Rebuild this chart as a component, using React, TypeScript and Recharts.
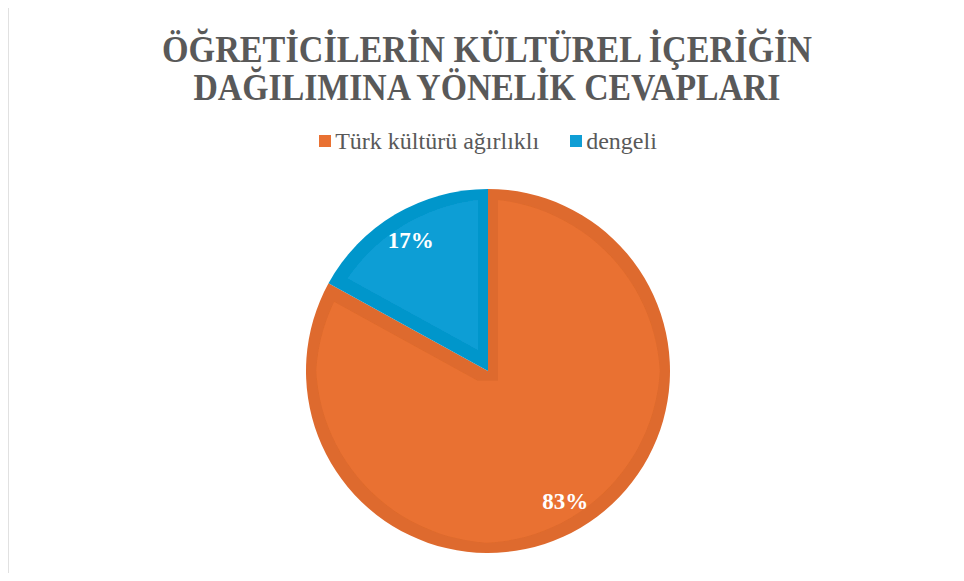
import { PieChart, Pie, Cell, Legend } from 'recharts';

const categories = ['Türk kültürü ağırlıklı', 'dengeli'];
const shares = [83, 17];
const colors = ['#E97132', '#0F9ED5'];
const titleLines = ['ÖĞRETİCİLERİN KÜLTÜREL İÇERİĞİN', 'DAĞILIMINA YÖNELİK CEVAPLARI'];

const data = categories.map((name, i) => ({ name, value: shares[i] }));

const SERIF = '"Liberation Serif", "Times New Roman", serif';
const RAD = Math.PI / 180;

// percent label, placed inside the slice near the rim
const renderLabel = ({ cx, cy, midAngle, outerRadius, percent }: any) => {
  const r = outerRadius * 0.835;
  const x = cx + r * Math.cos(-midAngle * RAD);
  const y = cy + r * Math.sin(-midAngle * RAD);
  return (
    <text
      x={x}
      y={y}
      fill="#ffffff"
      textAnchor="middle"
      dominantBaseline="central"
      style={{ fontFamily: SERIF, fontSize: 23, fontWeight: 700 }}
    >
      {`${Math.round(percent * 100)}%`}
    </text>
  );
};

const renderLegend = ({ payload }: any) => (
  <div style={{ display: 'flex', justifyContent: 'center', gap: 31, paddingLeft: 12, fontFamily: SERIF, fontSize: 24, color: '#595959', lineHeight: '28px' }}>
    {payload.map((item: any) => (
      <span key={item.value} style={{ display: 'inline-flex', alignItems: 'center' }}>
        <span style={{ width: 12, height: 12, background: item.color, marginRight: 4, display: 'inline-block' }} />
        {item.value}
      </span>
    ))}
  </div>
);

export default function App() {
  return (
    <div style={{ position: 'relative', width: 964, height: 581, margin: -8, overflow: 'hidden', background: '#fff' }}>
      <div style={{ position: 'absolute', left: 0, top: 0 }}>
        <PieChart width={964} height={581}>
          <defs>
            <filter id="innerEdge" x="-10%" y="-10%" width="120%" height="120%">
              <feMorphology in="SourceAlpha" operator="erode" radius="10" result="core" />
              <feComponentTransfer in="SourceGraphic" result="dark">
                <feFuncR type="linear" slope="0.9" />
                <feFuncG type="linear" slope="0.9" />
                <feFuncB type="linear" slope="0.9" />
              </feComponentTransfer>
              <feComposite in="SourceGraphic" in2="core" operator="in" result="inner" />
              <feMerge>
                <feMergeNode in="dark" />
                <feMergeNode in="inner" />
              </feMerge>
            </filter>
          </defs>
          <Legend
            verticalAlign="middle"
            layout="horizontal"
            content={renderLegend}
            wrapperStyle={{ top: 127, left: 0, width: 964 }}
          />
          <Pie
            data={data}
            dataKey="value"
            nameKey="name"
            cx={483}
            cy={366}
            outerRadius={182}
            startAngle={90}
            endAngle={-270}
            stroke="none"
            label={renderLabel}
            labelLine={false}
            isAnimationActive={false}
          >
            {data.map((entry, i) => (
              <Cell key={`cell-${i}`} fill={colors[i]} filter="url(#innerEdge)" />
            ))}
          </Pie>
        </PieChart>
      </div>
      <svg width={964} height={581} style={{ position: 'absolute', left: 0, top: 0, pointerEvents: 'none' }}>
        {/* chart frame: only top and left edges fall inside the picture */}
        <line x1={7} y1={5} x2={7} y2={581} stroke="#c4c4c4" strokeWidth={3} />
        <line x1={7} y1={5} x2={964} y2={5} stroke="#c4c4c4" strokeWidth={3} />
        <text
          x={487}
          y={62}
          textAnchor="middle"
          textLength={650}
          lengthAdjust="spacingAndGlyphs"
          fill="#595959"
          style={{ fontFamily: SERIF, fontSize: 38, fontWeight: 700 }}
        >
          {titleLines[0]}
        </text>
        <text
          x={487}
          y={100}
          textAnchor="middle"
          textLength={587}
          lengthAdjust="spacingAndGlyphs"
          fill="#595959"
          style={{ fontFamily: SERIF, fontSize: 38, fontWeight: 700 }}
        >
          {titleLines[1]}
        </text>
      </svg>
    </div>
  );
}
